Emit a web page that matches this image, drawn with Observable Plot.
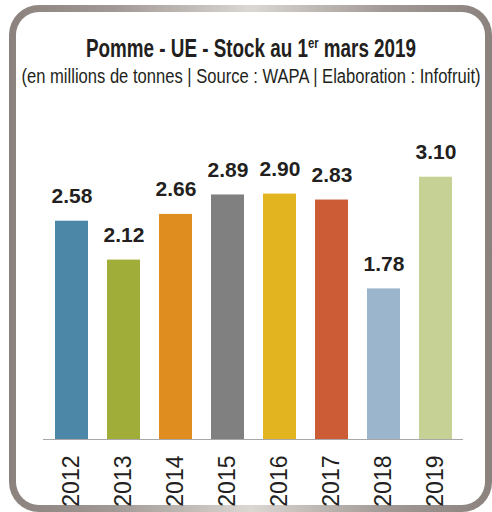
<!DOCTYPE html>
<html><head><meta charset="utf-8">
<script src="https://cdn.jsdelivr.net/npm/d3@7"></script>
<script src="https://cdn.jsdelivr.net/npm/@observablehq/plot@0.6"></script>
<style>
html,body{margin:0;padding:0;background:#fff;width:492px;height:512px;overflow:hidden;position:relative;font-family:"Liberation Sans Narrow","Liberation Sans",Arial,sans-serif;color:#231f20}
#frame{position:absolute;left:9px;top:5px;width:483px;height:507px;box-sizing:border-box;border:7px solid transparent;border-radius:30px;
background:linear-gradient(#fff,#fff) padding-box,linear-gradient(90deg,#8b827e 0%,#a19995 22%,#dbd7d2 50%,#a19995 78%,#8b827e 100%) border-box;}
.t{position:absolute;white-space:nowrap;left:251px;transform-origin:center;transform:translateX(-50%);}
#title{top:36px;font-size:25px;line-height:25px;font-weight:bold;}
#title sup{font-size:0.6em;line-height:0;vertical-align:0.6em;}
#sub{top:66px;font-size:20px;line-height:20px;}
#chart{position:absolute;left:0;top:100px;}
</style></head><body>
<div id="frame"></div>
<div id="title" class="t">Pomme - UE - Stock au 1<sup>er</sup> mars 2019</div>
<div id="sub" class="t">(en millions de tonnes | Source : WAPA | Elaboration : Infofruit)</div>
<div id="chart"></div>
<script>
const years = ["2012","2013","2014","2015","2016","2017","2018","2019"];
const stocks = [2.58, 2.12, 2.66, 2.89, 2.90, 2.83, 1.78, 3.10];
const colors = ["#4d87a8","#a0ad38","#df8d1e","#808080","#e2b420","#cb5c36","#9bb6cc","#c6d196"];

const data = years.map((y, i) => ({year: y, value: stocks[i]}));
const fmt = d3.format(".2f");
const font = '"Liberation Sans Narrow","Liberation Sans",Arial,sans-serif';

const chart = Plot.plot({
  width: 492, height: 412,
  marginLeft: 43, marginRight: 29, marginTop: 20, marginBottom: 73,
  x: {domain: years, paddingInner: 0.367, paddingOuter: 0.178, axis: null},
  y: {domain: [0, 3.77], axis: null},
  color: {domain: years, range: colors},
  style: {fontFamily: font, color: "#231f20", background: "transparent", overflow: "visible"},
  marks: [
    Plot.barY(data, {x: "year", y: "value", fill: "year"}),
    Plot.ruleY([0], {stroke: "#a8a8a8", strokeWidth: 1}),
    Plot.text(data, {x: "year", y: "value", text: d => fmt(d.value), dy: -18, lineAnchor: "bottom",
      fontSize: 21, fontWeight: "bold", fill: "#231f20", ariaLabel: "values"}),
    Plot.text(data, {x: "year", y: () => 0, text: "year", rotate: -90, textAnchor: "end", dy: 16,
      fontSize: 23, fill: "#231f20", ariaLabel: "years"})
  ]
});
document.getElementById("chart").appendChild(chart);
d3.select(chart).selectAll('g[aria-label="years"] text').attr("textLength", 35).attr("lengthAdjust", "spacingAndGlyphs");
d3.select(chart).selectAll('g[aria-label="values"] text').attr("textLength", 35).attr("lengthAdjust", "spacingAndGlyphs");

function fit(id, target) {
  const el = document.getElementById(id);
  const w = el.getBoundingClientRect().width;
  el.style.transform = `translateX(-50%) scaleX(${target / w})`;
}
fit("title", 330);
fit("sub", 459);
</script>
</body></html>
